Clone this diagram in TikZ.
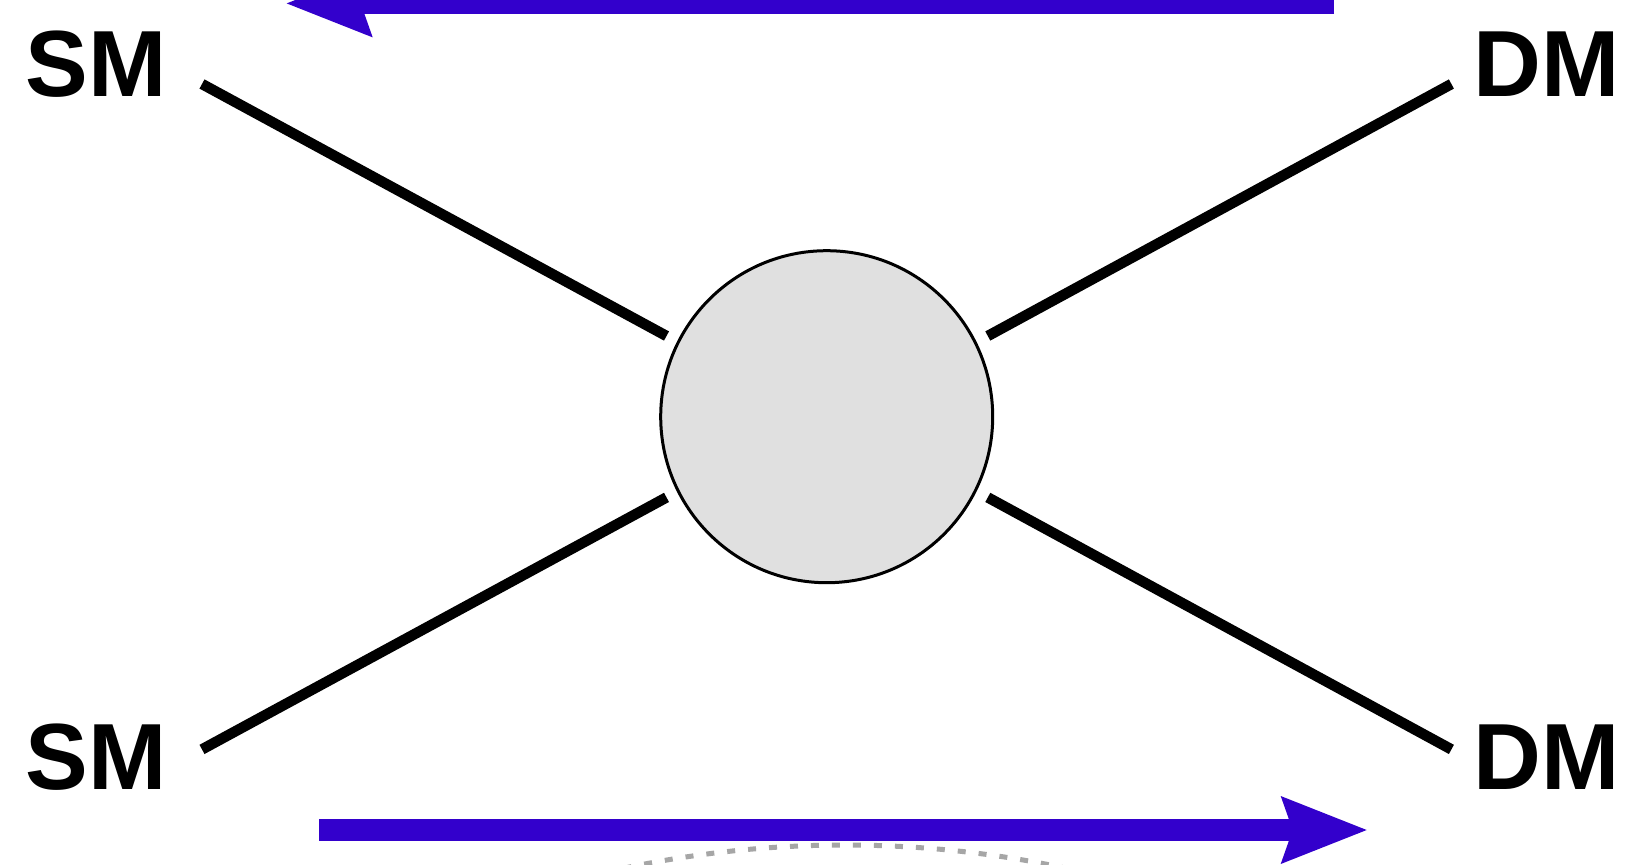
\documentclass[tikz,border=0pt]{standalone}
\usepackage{fontspec}
\setmainfont{Liberation Sans}
\usetikzlibrary{arrows.meta}
\definecolor{flowblue}{HTML}{3300CC}
\definecolor{blobgray}{HTML}{E0E0E0}
\definecolor{arcgray}{HTML}{A6A6A6}
\tikzset{
  leg/.style={line width=10.5pt, line cap=butt, black},
  blob/.style={circle, draw=black, line width=3pt, fill=blobgray, minimum size=332pt, inner sep=0pt},
  lbl/.style={anchor=base, inner sep=0pt, font=\fontsize{94}{94}\selectfont\bfseries},
  flow/.style={flowblue, line width=22pt, line cap=butt,
    -{Stealth[length=86pt, width=68pt, inset=12pt, line width=0pt]}},
  arcdash/.style={arcgray, line width=5pt, dash pattern=on 8pt off 13pt}
}
\begin{document}
\begin{tikzpicture}[x=1pt, y=-1pt]
\path[use as bounding box, clip] (0,0) rectangle (1639,865);
\fill[white] (0,0) rectangle (1639,865);

\node[blob] (core) at (826.7,416.7) {};

\node[lbl] (smtop) at (96,96.7) {SM};
\node[lbl] (dmtop) at (1547,96.7) {DM};
\node[lbl] (smbot) at (96,789) {SM};
\node[lbl] (dmbot) at (1547,789) {DM};

\coordinate (tlA) at (202,84);
\coordinate (tlB) at (666.5,336);
\coordinate (trA) at (1451.4,84);
\coordinate (trB) at (987.8,336);
\coordinate (blA) at (202,749.4);
\coordinate (blB) at (666.5,497.4);
\coordinate (brA) at (1451.4,749.4);
\coordinate (brB) at (987.8,497.4);

\draw[leg] (tlA) -- (tlB);
\draw[leg] (trA) -- (trB);
\draw[leg] (blA) -- (blB);
\draw[leg] (brA) -- (brB);

\coordinate (topTail) at (1334,3.4);
\coordinate (topTip) at (286.7,3.4);
\coordinate (botTail) at (319,830);
\coordinate (botTip) at (1366.7,830);

\draw[flow] (topTail) -- (topTip);
\draw[flow] (botTail) -- (botTip);

\coordinate (arcC) at (845,1910);
\draw[arcdash] (arcC) ++(258:1065) arc[start angle=258, end angle=282, radius=1065];
\end{tikzpicture}
\end{document}
